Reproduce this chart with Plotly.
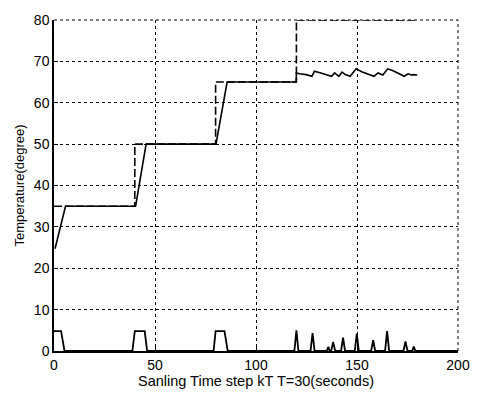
import plotly.graph_objects as go

# Temperature response (solid)
temp_x = [0.5, 5.7, 40.4, 45.6, 80.2, 85.7, 119.9, 120.0, 121.6, 124.8, 127.7, 128.9,
          132.1, 134.5, 137.4, 138.9, 141.0, 142.6, 144.2, 146.6, 149.6, 152.3, 155.5,
          158.4, 160.4, 162.8, 165.2, 167.6, 170.9, 173.3, 175.3, 176.9, 178.2, 179.8]
temp_y = [24.7, 35, 35, 50, 50, 65, 65, 67.2, 67.0, 66.8, 66.4, 67.6,
          67.2, 66.8, 66.4, 67.2, 66.4, 67.4, 66.8, 66.4, 68.2, 67.5, 67.0,
          66.4, 67.2, 66.7, 68.2, 67.8, 67.0, 66.4, 67.0, 66.7, 66.8, 66.7]

# Setpoint (dashed)
set_x = [0, 40, 40, 80, 80, 120, 120, 180]
set_y = [35, 35, 50, 50, 65, 65, 80, 80]

# Control signal (bottom)
ctrl_x = [0, 3.5, 5.2, 38.8, 40, 44.9, 46.1, 79, 80, 84.4, 86, 119, 120, 121,
          127, 128, 129, 135, 135.8, 136.5, 137.2, 138.2, 139.2, 142.1, 143.1, 144.1,
          148.9, 149.9, 150.9, 157, 158, 159, 163.9, 164.9, 165.9, 173, 174, 175,
          177.3, 178.1, 178.9, 200]
ctrl_y = [4.8, 4.8, 0, 0, 4.8, 4.8, 0, 0, 4.8, 4.8, 0, 0, 5, 0,
          0, 4.3, 0, 0, 1, 0, 0, 2.2, 0, 0, 3.2, 0,
          0, 4.2, 0, 0, 2.6, 0, 0, 4.8, 0, 0, 2.3, 0,
          0, 1.1, 0, 0]

x_ticks = [0, 50, 100, 150, 200]
y_ticks = [0, 10, 20, 30, 40, 50, 60, 70, 80]

fig = go.Figure()
fig.add_trace(go.Scatter(x=set_x, y=set_y, mode="lines",
                         line=dict(color="black", width=1.6, dash="8px,3px"), hoverinfo="skip"))
fig.add_trace(go.Scatter(x=temp_x, y=temp_y, mode="lines",
                         line=dict(color="black", width=1.6), hoverinfo="skip"))
fig.add_trace(go.Scatter(x=ctrl_x, y=ctrl_y, mode="lines",
                         line=dict(color="black", width=1.8), hoverinfo="skip"))

font = dict(family="Liberation Sans, Arial, sans-serif", size=14, color="black")

grid_dash = "3px,3px"
# top and right border drawn as dashed grid lines, as in the reference
fig.add_shape(type="line", xref="paper", yref="paper", x0=0, x1=1, y0=1, y1=1,
              line=dict(color="black", width=1, dash=grid_dash), layer="below")
fig.add_shape(type="line", xref="paper", yref="paper", x0=1, x1=1, y0=0, y1=1,
              line=dict(color="black", width=1, dash=grid_dash), layer="below")

fig.update_layout(
    width=482, height=399,
    margin=dict(l=54, r=15, t=15, b=46),
    paper_bgcolor="white", plot_bgcolor="white",
    showlegend=False,
    font=font,
    xaxis=dict(range=[0, 200], tickvals=x_ticks, ticktext=[str(v) for v in x_ticks],
               showgrid=True, gridcolor="black", griddash=grid_dash, gridwidth=1,
               showline=True, linecolor="black", linewidth=1.5, zeroline=False,
               ticks="inside", ticklen=4, tickcolor="black",
               title=dict(text="Sanling Time step kT T=30(seconds)", standoff=4,
                          font=dict(family=font["family"], size=14.5, color="black"))),
    yaxis=dict(range=[0, 80], tickvals=y_ticks, ticktext=[str(v) for v in y_ticks],
               showgrid=True, gridcolor="black", griddash=grid_dash, gridwidth=1,
               showline=True, linecolor="black", linewidth=1.5, zeroline=False,
               ticks="inside", ticklen=4, tickcolor="black",
               title=dict(text="Temperature(degree)", standoff=6,
                          font=dict(family=font["family"], size=13, color="black"))),
)

fig.write_html("out.html")
